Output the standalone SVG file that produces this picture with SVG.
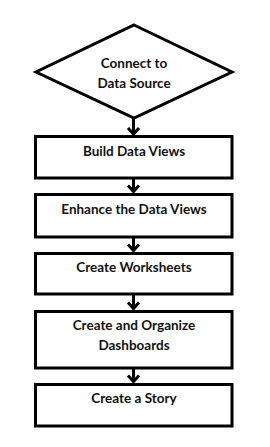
<svg xmlns="http://www.w3.org/2000/svg" width="270" height="447" viewBox="0 0 270 447">
<defs>
<style>
.shape{fill:#fff;stroke:#000;stroke-width:3}
.lbl{font-family:Lato,"Liberation Sans",sans-serif;font-weight:bold;font-size:13.5px;fill:#111;text-anchor:middle}
.conn{stroke:#000;stroke-width:3;fill:none;marker-end:url(#arr)}
</style>
<marker id="arr" markerUnits="userSpaceOnUse" markerWidth="14" markerHeight="18" refX="0" refY="0" orient="auto" viewBox="-10 -9 14 18" overflow="visible">
<path d="M-6,-5.5 L0,0 L-6,5.5" fill="none" stroke="#000" stroke-width="3"/>
</marker>
</defs>
<rect width="270" height="447" fill="#fff"/>
<g id="connectors">
<path class="conn" d="M133.5,118 V134"/>
<path class="conn" d="M133.5,178 V191.5"/>
<path class="conn" d="M133.5,237 V250.5"/>
<path class="conn" d="M133.5,294 V308.5"/>
<path class="conn" d="M133.5,368 V381.5"/>
</g>
<g id="n0">
<polygon class="shape" points="134,25 232,72 134,118 36,72"/>
<text class="lbl" x="134" y="68">Connect to</text>
<text class="lbl" x="134" y="88">Data Source</text>
</g>
<g id="n1">
<rect class="shape" x="35.5" y="136.5" width="196.5" height="41.5"/>
<text class="lbl" x="134" y="156">Build Data Views</text>
</g>
<g id="n2">
<rect class="shape" x="35.5" y="194.5" width="196.5" height="42.5"/>
<text class="lbl" x="134" y="214">Enhance the Data Views</text>
</g>
<g id="n3">
<rect class="shape" x="35.5" y="253.5" width="196.5" height="40.5"/>
<text class="lbl" x="134" y="272">Create Worksheets</text>
</g>
<g id="n4">
<rect class="shape" x="35.5" y="311.5" width="196.5" height="56.5"/>
<text class="lbl" x="134" y="330">Create and Organize</text>
<text class="lbl" x="134" y="350">Dashboards</text>
</g>
<g id="n5">
<rect class="shape" x="35.5" y="384.5" width="196.5" height="41.5"/>
<text class="lbl" x="134" y="403">Create a Story</text>
</g>
</svg>
